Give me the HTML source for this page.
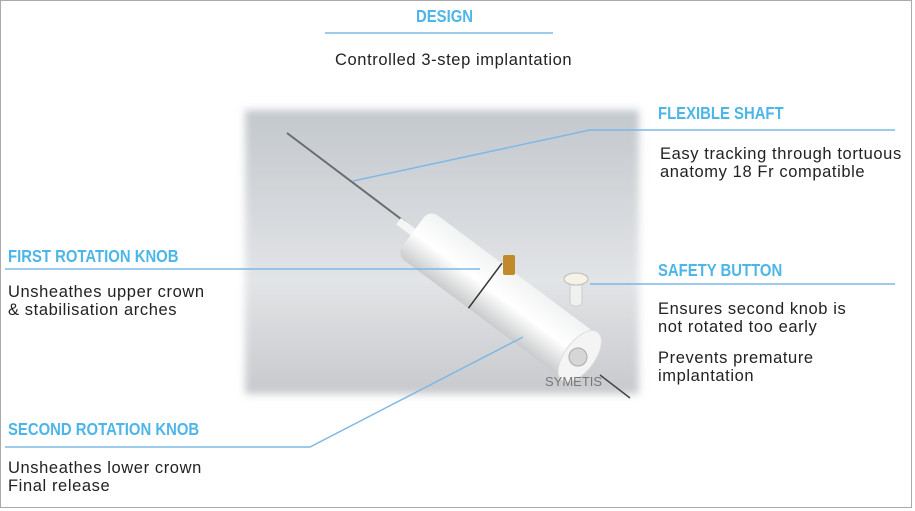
<!DOCTYPE html>
<html><head><meta charset="utf-8"><style>
body{margin:0;width:915px;height:511px;background:#fff;position:relative;overflow:hidden;font-family:"Liberation Sans",sans-serif}
.frame{position:absolute;left:0;top:0;width:912px;height:508px;border:1px solid #aaa;box-sizing:border-box}
.h{position:absolute;font-family:"Liberation Sans",sans-serif;font-weight:bold;color:#4db6e8;font-size:17.5px;white-space:nowrap;transform:scaleX(0.85);transform-origin:0 0}
.t{position:absolute;color:#222;font-size:16.5px;letter-spacing:0.6px;line-height:18px;white-space:nowrap}
</style></head><body>
<div class="frame"></div>
<svg width="915" height="511" style="position:absolute;left:0;top:0">
<defs>
<linearGradient id="bg" x1="0" y1="0" x2="0" y2="1">
<stop offset="0" stop-color="#c3c8cd"/><stop offset="0.6" stop-color="#e2e4e6"/><stop offset="1" stop-color="#c7c9cc"/></linearGradient>
<filter id="bl"><feGaussianBlur stdDeviation="4"/></filter>
<linearGradient id="body" x1="0" y1="0" x2="0" y2="1">
<stop offset="0" stop-color="#f2f3f3"/><stop offset="0.5" stop-color="#ffffff"/><stop offset="1" stop-color="#c9cbcc"/></linearGradient>
</defs>
<rect x="245" y="110" width="394" height="284" fill="url(#bg)" filter="url(#bl)"/>
<line x1="287" y1="133" x2="405" y2="222" stroke="#6a6d70" stroke-width="2"/>
<g transform="translate(405,226) rotate(36.7)">
<rect x="-8" y="-4" width="20" height="8" fill="#f5f5f5"/>
<rect x="10" y="-28" width="210" height="56" rx="10" fill="url(#body)"/>
<line x1="100" y1="-28" x2="100" y2="28" stroke="#333" stroke-width="1.5"/>
<ellipse cx="218" cy="0" rx="15" ry="30" fill="#f4f4f4" stroke="#ddd"/>
</g>
<circle cx="578" cy="357" r="9" fill="#d6d6d6" stroke="#aaa"/>
<rect x="503" y="255" width="12" height="20" rx="2" fill="#c08a2a"/>
<rect x="570" y="280" width="12" height="26" rx="4" fill="#f0f0f0" stroke="#ccc"/>
<ellipse cx="576" cy="279" rx="12" ry="6" fill="#f5f2e6" stroke="#bbb"/>
<text x="545" y="386" font-family="Liberation Sans,sans-serif" font-size="13" fill="#777">SYMETIS</text>
<line x1="600" y1="375" x2="630" y2="398" stroke="#444" stroke-width="1.5"/>
<g stroke="#7fb8e6" stroke-width="1.5" fill="none">
<line x1="325" y1="33" x2="553" y2="33"/>
<polyline points="353,181 590,130 895,130"/>
<line x1="5" y1="269" x2="480" y2="269"/>
<line x1="590" y1="284" x2="895" y2="284"/>
<polyline points="5,447 310,447 523,337"/>
</g>
</svg>
<div class="h" style="left:416px;top:6px">DESIGN</div>
<div class="t" style="left:335px;top:51px">Controlled 3-step implantation</div>
<div class="h" style="left:658px;top:103px">FLEXIBLE SHAFT</div>
<div class="t" style="left:660px;top:145px">Easy tracking through tortuous<br>anatomy 18 Fr compatible</div>
<div class="h" style="left:8px;top:246px">FIRST ROTATION KNOB</div>
<div class="t" style="left:8px;top:283px">Unsheathes upper crown<br>&amp; stabilisation arches</div>
<div class="h" style="left:658px;top:260px">SAFETY BUTTON</div>
<div class="t" style="left:658px;top:300px">Ensures second knob is<br>not rotated too early</div>
<div class="t" style="left:658px;top:349px">Prevents premature<br>implantation</div>
<div class="h" style="left:8px;top:419px">SECOND ROTATION KNOB</div>
<div class="t" style="left:8px;top:459px">Unsheathes lower crown<br>Final release</div>
</body></html>
